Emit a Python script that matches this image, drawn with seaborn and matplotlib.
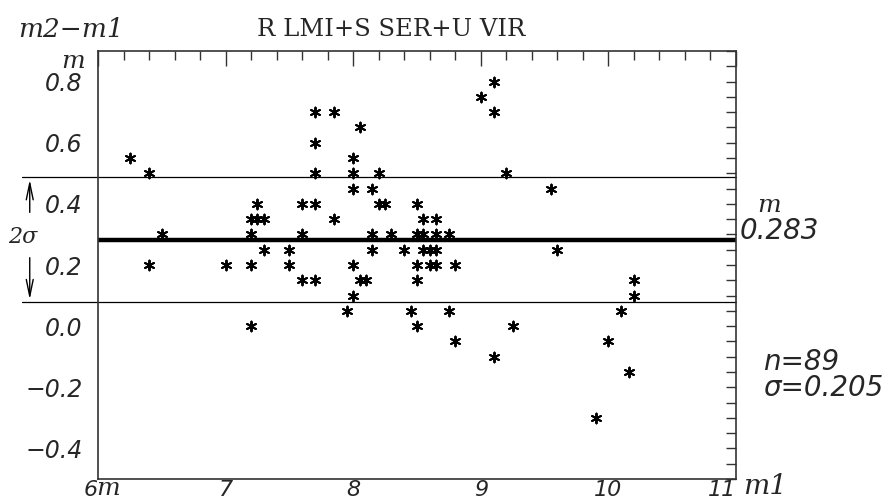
import numpy as np
import pandas as pd
import matplotlib
matplotlib.use("Agg")
import matplotlib.pyplot as plt
from matplotlib.ticker import MultipleLocator, FixedLocator
import seaborn as sns

# data (m1, m2-m1)
m1 = [6.25, 6.40, 6.50, 6.40, 7.00, 7.20, 7.25, 7.30, 7.25, 7.20,
      7.30, 7.20, 7.20, 7.50, 7.50, 7.60, 7.60, 7.60, 7.70, 7.70,
      7.70, 7.70, 7.70, 7.85, 7.85, 7.95, 8.00, 8.00, 8.00, 8.00,
      8.00, 8.05, 8.05, 8.10, 8.15, 8.15, 8.15, 8.20, 8.20, 8.25,
      8.30, 8.40, 8.45, 8.50, 8.50, 8.50, 8.50, 8.50, 8.55, 8.55,
      8.55, 8.60, 8.60, 8.65, 8.65, 8.65, 8.65, 8.75, 8.75, 8.80,
      8.80, 9.00, 9.10, 9.10, 9.10, 9.20, 9.25, 9.55, 9.60, 9.90,
      10.00, 10.10, 10.16, 10.20, 10.20]
dm = [0.55, 0.50, 0.30, 0.20, 0.20, 0.35, 0.35, 0.35, 0.40, 0.30,
      0.25, 0.20, 0.00, 0.25, 0.20, 0.40, 0.30, 0.15, 0.70, 0.60,
      0.50, 0.40, 0.15, 0.70, 0.35, 0.05, 0.55, 0.50, 0.45, 0.20,
      0.10, 0.65, 0.15, 0.15, 0.45, 0.30, 0.25, 0.50, 0.40, 0.40,
      0.30, 0.25, 0.05, 0.40, 0.30, 0.20, 0.15, 0.00, 0.35, 0.30,
      0.25, 0.25, 0.20, 0.35, 0.30, 0.25, 0.20, 0.30, 0.05, 0.20,
      -0.05, 0.75, 0.80, 0.70, -0.10, 0.50, 0.00, 0.45, 0.25, -0.30,
      -0.05, 0.05, -0.15, 0.15, 0.10]
mean_dm = 0.283
sigma = 0.205
n_stars = 89
x_ticks = [6, 7, 8, 9, 10, 11]
y_ticks = [-0.4, -0.2, 0.0, 0.2, 0.4, 0.6, 0.8]

df = pd.DataFrame({"m1": m1, "dm": dm})

sns.set_style("white")
plt.rcParams['font.family'] = ['DejaVu Sans']

fig = plt.figure(figsize=(8.95, 5.04), dpi=100)
ax = fig.add_axes([0.1095, 0.0496, 0.7128, 0.8492])

sns.scatterplot(data=df, x="m1", y="dm", ax=ax, marker=(6, 2, 0), s=50,
                color="black", linewidth=1.4, edgecolor="black", legend=False)

ax.set_xlim(6, 11)
ax.set_ylim(-0.5, 0.9)

# mean and 2 sigma lines
ax.axhline(mean_dm, color="black", lw=3.2, zorder=1)
for yy in (mean_dm + sigma, mean_dm - sigma):
    ax.axhline(yy, xmin=-0.119, xmax=1, color="black", lw=0.9, clip_on=False, zorder=1)

arr_x = -0.107
ax.annotate("", xy=(arr_x, mean_dm + sigma), xytext=(arr_x, mean_dm + 0.08),
            xycoords=("axes fraction", "data"), textcoords=("axes fraction", "data"),
            arrowprops=dict(arrowstyle="->,head_length=1.2,head_width=0.25", lw=1, color="black"))
ax.annotate("", xy=(arr_x, mean_dm - sigma), xytext=(arr_x, mean_dm - 0.05),
            xycoords=("axes fraction", "data"), textcoords=("axes fraction", "data"),
            arrowprops=dict(arrowstyle="->,head_length=1.2,head_width=0.25", lw=1, color="black"))
ax.text(-0.118, mean_dm + 0.01, "2σ", transform=ax.get_yaxis_transform(),
        ha="center", va="center", fontsize=16, style="italic", family="DejaVu Serif")

# ticks
ax.xaxis.set_major_locator(FixedLocator(x_ticks))
ax.xaxis.set_minor_locator(MultipleLocator(0.2))
ax.yaxis.set_major_locator(FixedLocator(y_ticks))
ax.yaxis.set_minor_locator(MultipleLocator(0.05))
ax.set_xticklabels([str(v) for v in x_ticks])
ax.set_yticklabels(["\u2212%.1f" % abs(v) if v < 0 else "%.1f" % v for v in y_ticks])
ax.tick_params(which="both", direction="in", top=True, right=True, color="#333333", width=1)
ax.tick_params(axis="x", which="major", length=11, pad=1, labelsize=16)
ax.tick_params(axis="x", which="minor", length=6.5)
ax.tick_params(axis="y", which="major", length=7, pad=11, labelsize=17)
ax.tick_params(axis="y", which="minor", length=7)
for lab in ax.get_xticklabels() + ax.get_yticklabels():
    lab.set_fontstyle("italic")
xl = ax.get_xticklabels()
xl[0].set_ha("right")
xl[-1].set_ha("right")
for sp in ax.spines.values():
    sp.set_linewidth(1.2)
    sp.set_color("#333333")
ax.set_xlabel("")
ax.set_ylabel("")

# texts
fig.text(0.437, 0.942, "R LMI+S SER+U VIR", ha="center", va="center",
         fontsize=17.5, family="DejaVu Serif")
fig.text(0.02, 0.942, "m2\u2212m1", ha="left", va="center", fontsize=19,
         style="italic", family="DejaVu Serif")
fig.text(0.082, 0.877, "m", ha="center", va="center", fontsize=18,
         style="italic", family="DejaVu Serif")
fig.text(0.121, 0.03, "m", ha="center", va="center", fontsize=18,
         style="italic", family="DejaVu Serif")
fig.text(0.83, 0.034, "m1", ha="left", va="center", fontsize=20,
         style="italic", family="DejaVu Serif")

ax.text(1.052, 0.372, "m", transform=ax.get_yaxis_transform(),
        ha="center", va="baseline", fontsize=18, style="italic", family="DejaVu Serif")
ax.text(1.006, mean_dm + 0.003, "%.3f" % mean_dm, transform=ax.get_yaxis_transform(),
        ha="left", va="baseline", fontsize=20, style="italic")
ax.text(1.043, -0.118, "n=%d" % n_stars, transform=ax.get_yaxis_transform(),
        ha="left", va="center", fontsize=20, style="italic")
ax.text(1.043, -0.203, "σ=%.3f" % sigma, transform=ax.get_yaxis_transform(),
        ha="left", va="center", fontsize=20, style="italic")

fig.savefig("out.png", dpi=100)
